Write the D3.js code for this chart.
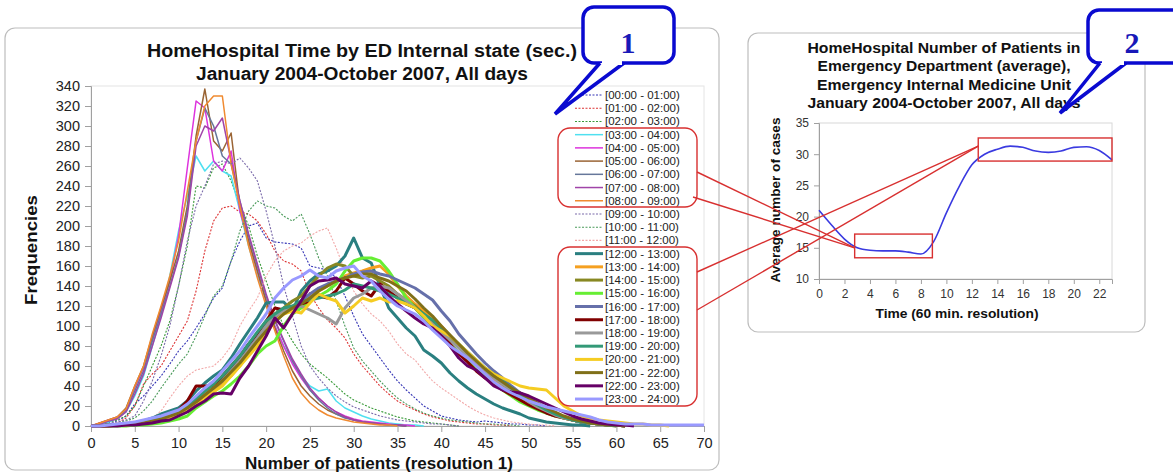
<!DOCTYPE html>
<html>
<head>
<meta charset="utf-8">
<script src="https://cdn.jsdelivr.net/npm/d3@7"></script>
<style>
  body { margin: 0; background: #fff; }
  svg { display: block; font-family: "Liberation Sans", Arial, sans-serif; }
</style>
</head>
<body>
<svg id="chart" width="1173" height="474"></svg>
<script>
// ---- left chart: frequencies by number of patients, one series per hour ----
const hourLabels = [
  '[00:00 - 01:00)', '[01:00 - 02:00)', '[02:00 - 03:00)', '[03:00 - 04:00)',
  '[04:00 - 05:00)', '[05:00 - 06:00)', '[06:00 - 07:00)', '[07:00 - 08:00)',
  '[08:00 - 09:00)', '[09:00 - 10:00)', '[10:00 - 11:00)', '[11:00 - 12:00)',
  '[12:00 - 13:00)', '[13:00 - 14:00)', '[14:00 - 15:00)', '[15:00 - 16:00)',
  '[16:00 - 17:00)', '[17:00 - 18:00)', '[18:00 - 19:00)', '[19:00 - 20:00)',
  '[20:00 - 21:00)', '[21:00 - 22:00)', '[22:00 - 23:00)', '[23:00 - 24:00)'
];
const hourColors = [
  '#3535b5', '#dd3535', '#3a9a3a', '#4fe0f0', '#dd33dd', '#9a6434',
  '#66779a', '#a044a8', '#f08a30', '#7a6aaa', '#4a9a5a', '#f2a8a8',
  '#2a7f80', '#f5a020', '#888822', '#66ee33', '#6670aa', '#800000',
  '#999999', '#339977', '#f5cc22', '#807018', '#660066', '#9999ff'
];
// 0 = dotted thin, 1 = solid thin, 2 = solid thick
const hourStyle = [0, 0, 0, 1, 1, 1, 1, 1, 1, 0, 0, 0, 2, 2, 2, 2, 2, 2, 2, 2, 2, 2, 2, 2];

// frequency per number of patients (x = 0, 1, 2, ...)
const h00 = [0,2,3,5,10,22,30,40,50,62,75,85,98,112,128,138,165,185,200,203,188,184,183,182,178,160,158,156,148,130,110,92,80,68,56,45,36,28,20,15,10,8,6,5,4,5,4,3,2,2,1,1,0];
const h01 = [0,1,2,3,8,20,42,52,60,75,90,105,135,175,205,218,220,214,212,205,192,175,165,162,155,132,118,106,98,88,72,60,50,40,32,25,20,16,12,9,7,5,4,3,2,2,1,1,0];
const h02 = [0,2,4,6,10,20,40,60,80,105,140,180,240,238,258,262,245,222,200,170,145,120,100,85,72,62,55,48,40,32,26,22,18,15,12,9,7,5,4,3,2,1,0];
const h03 = [0,2,4,8,14,30,50,80,110,150,195,230,270,255,265,255,250,215,180,150,125,100,80,65,50,40,35,37,25,18,14,10,7,5,3,2,1,1,0];
const h04 = [0,3,6,9,16,38,58,88,115,145,190,258,325,318,265,255,275,215,185,155,125,100,80,62,48,36,28,20,14,10,7,5,4,3,2,1,1,0];
const h05 = [0,3,6,9,18,40,60,90,118,145,175,220,290,337,285,275,293,220,185,155,125,98,75,55,40,30,22,16,12,9,6,4,3,2,1,1,0];
const h06 = [0,2,5,8,15,35,55,85,112,140,170,215,285,318,300,270,262,225,190,160,130,105,85,65,50,36,26,18,12,8,6,4,3,2,1,1,0];
const h07 = [0,2,5,7,14,32,52,80,108,138,168,210,280,300,295,308,265,225,192,162,132,106,86,67,52,38,28,20,14,9,6,4,3,2,1,1,0];
const h08 = [0,3,6,9,17,40,60,92,120,150,185,235,285,320,330,330,262,220,180,148,120,95,70,48,33,23,16,11,8,6,4,3,2,1,1,0];
const h09 = [0,1,2,4,6,10,25,45,70,100,140,185,220,240,262,265,262,268,258,245,215,180,140,110,80,60,48,38,30,24,19,16,13,10,8,6,5,4,3,2,2,1,0];
const h10 = [0,1,2,3,5,8,15,25,38,50,62,72,90,110,130,140,165,195,215,225,220,218,210,205,212,192,168,150,125,100,78,65,55,45,36,28,22,17,13,10,8,6,5,4,3,2,2,1,1,0];
const h11 = [0,1,2,3,4,5,6,8,15,28,40,50,56,58,60,68,80,100,115,128,150,165,175,180,183,190,195,198,178,155,135,122,112,105,95,82,72,66,55,45,38,32,26,20,15,11,8,6,4,3,2,1,1,0];
const h12 = [0,0,1,1,2,3,5,8,12,15,18,25,35,43,50,56,68,82,95,108,123,124,124,115,135,145,152,155,160,170,188,168,163,140,118,108,98,90,76,70,63,53,45,38,32,27,22,18,15,12,8,6,4,3,2,1,1,0];
const h13 = [0,0,0,1,1,2,3,5,7,9,12,16,22,28,35,42,50,60,72,85,98,108,112,118,122,128,135,140,145,150,153,155,158,160,152,140,130,122,115,108,100,90,80,70,62,54,47,40,34,28,23,18,14,11,8,6,4,3,2,1,0];
const h14 = [0,0,1,1,2,3,4,6,8,11,14,19,26,33,40,48,57,67,78,90,102,112,118,125,130,140,150,158,162,160,150,148,150,145,140,132,126,120,112,104,96,88,80,72,64,56,49,42,36,30,25,20,16,12,9,6,4,3,2,1,1,0];
const h15 = [0,0,0,0,0,1,1,2,3,5,7,10,18,24,30,35,42,50,60,72,80,85,100,112,118,125,130,135,142,155,165,168,168,165,155,142,128,118,108,98,92,82,74,66,56,50,43,36,30,24,20,16,13,10,8,6,4,3,2,1,1,0];
const h16 = [0,0,1,1,2,3,4,6,9,12,15,20,27,34,41,49,58,68,79,90,100,107,113,118,125,132,138,142,145,148,152,154,155,152,150,146,142,138,132,126,115,105,92,82,72,63,55,48,40,33,27,21,16,12,9,6,4,3,2,1,1,0];
const h17 = [0,0,1,1,2,3,5,7,9,12,16,25,40,40,40,50,60,70,82,92,105,118,116,118,122,125,130,128,135,148,142,135,130,142,135,128,122,118,110,100,92,82,72,64,55,48,42,36,31,26,21,17,13,10,8,6,4,3,2,1,1,0];
const h18 = [0,0,1,1,2,3,4,6,8,10,13,18,25,32,38,45,55,65,76,88,100,110,115,118,120,116,112,108,102,118,128,132,138,140,138,132,125,118,110,102,94,86,78,70,62,55,48,42,36,30,24,19,15,11,8,6,4,3,2,1,1,0];
const h19 = [0,0,1,1,2,3,4,6,9,12,15,20,27,35,42,50,60,70,82,94,105,112,118,120,125,126,128,130,132,136,142,140,138,135,132,128,122,118,112,106,98,90,82,74,66,58,52,45,38,32,26,21,16,12,9,6,4,3,2,1,0];
const h20 = [0,0,0,1,1,2,3,4,6,8,11,15,22,28,34,40,50,60,70,80,92,105,112,115,113,123,132,128,125,113,120,128,125,128,124,125,122,118,110,100,95,90,82,74,66,58,52,48,44,40,38,37,36,28,20,15,10,8,6,5,4,3,2,2,1,1,0];
const h21 = [0,0,0,1,1,2,3,5,7,10,13,18,24,31,38,45,54,63,74,85,95,104,112,118,122,128,135,140,145,148,150,152,152,148,145,140,135,127,118,110,100,91,82,73,65,57,50,44,38,33,28,23,18,14,10,7,5,3,2,1,1,0];
const h22 = [0,0,0,0,1,1,2,3,5,6,10,14,20,25,32,33,32,48,60,75,90,108,98,112,125,140,145,146,148,142,140,138,145,140,130,122,115,108,102,98,90,80,68,60,56,48,40,36,34,33,30,26,22,18,14,10,7,5,3,2,1,1,0];
const h23 = [0,0,1,2,3,4,6,8,10,13,16,22,30,38,45,55,65,75,88,100,112,128,138,146,150,156,150,148,155,158,160,150,145,135,127,120,116,112,105,96,88,80,74,68,60,52,44,38,33,29,25,22,19,17,15,13,11,9,6,4,3,2,2,2,1,1,1,1,1,1,1];
const hourSeries = [h00,h01,h02,h03,h04,h05,h06,h07,h08,h09,h10,h11,h12,h13,h14,h15,h16,h17,h18,h19,h20,h21,h22,h23];

const freqTicks = d3.range(0, 341, 20);
const patientTicks = d3.range(0, 71, 5);

// ---- right chart: average number of patients per hour ----
const hours = d3.range(0, 24);
const avgPatients = [21.0,18.6,16.4,15.0,14.6,14.5,14.5,14.3,14.0,16.0,20.6,24.8,28.3,30.0,30.8,31.3,31.1,30.5,30.3,30.5,31.1,31.2,30.6,29.1];
const avgTicks = [10, 15, 20, 25, 30, 35];
const hourTicks = d3.range(0, 23, 2);

const svg = d3.select('#chart');
svg.append('rect').attr('width', 1173).attr('height', 474).attr('fill', '#fff');

// wide bold label, stretched to the width seen in the picture
function label(px, py, txt, size, width, rotate) {
  const t = svg.append('text')
    .attr('text-anchor', 'middle')
    .style('font-size', size + 'px').style('font-weight', 'bold').attr('fill', '#111')
    .attr('textLength', width).attr('lengthAdjust', 'spacingAndGlyphs')
    .text(txt);
  if (rotate) t.attr('transform', `translate(${px},${py}) rotate(-90)`);
  else t.attr('x', px).attr('y', py);
  return t;
}

// ================= left panel =================
svg.append('rect')
  .attr('x', 5).attr('y', 28).attr('width', 714).attr('height', 442)
  .attr('rx', 10).attr('fill', '#fff').attr('stroke', '#bdbdbd').attr('stroke-width', 1.2);

const x = d3.scaleLinear().domain([0, 70]).range([91, 704]);
const y = d3.scaleLinear().domain([0, 340]).range([426, 86]);

svg.append('rect')
  .attr('x', 91).attr('y', 86).attr('width', 613).attr('height', 340)
  .attr('fill', 'none').attr('stroke', '#e4e4e4');

const gy = svg.append('g').attr('transform', 'translate(91,0)')
  .call(d3.axisLeft(y).tickValues(freqTicks).tickSize(6).tickPadding(5));
const gx = svg.append('g').attr('transform', 'translate(0,426)')
  .call(d3.axisBottom(x).tickValues(patientTicks).tickSize(6).tickPadding(6));
[gx, gy].forEach(g => {
  g.select('.domain').attr('stroke', '#a0a0a0');
  g.selectAll('.tick line').attr('stroke', '#a0a0a0');
  g.selectAll('.tick text').attr('fill', '#222').style('font-size', '14.5px')
    .style('font-family', '"Liberation Sans", Arial, sans-serif');
});

function lineStyle(sel, i) {
  const s = hourStyle[i];
  sel.attr('fill', 'none')
    .attr('stroke', hourColors[i])
    .attr('stroke-width', s === 2 ? 3 : (s === 1 ? 1.5 : 1.1))
    .attr('stroke-dasharray', s === 0 ? '2,1.5' : null)
    .attr('stroke-linejoin', 'round');
}

const freqLine = d3.line().x((d, j) => x(j)).y(d => y(d));
hourSeries.forEach((vals, i) => {
  svg.append('path').datum(vals).attr('d', freqLine).call(lineStyle, i);
});

// legend
const legend = svg.append('g');
hourLabels.forEach((lab, i) => {
  const ly = 95 + i * 13.22;
  legend.append('line').attr('x1', 575).attr('x2', 603).attr('y1', ly).attr('y2', ly)
    .call(lineStyle, i);
  legend.append('text').attr('x', 605).attr('y', ly + 4)
    .style('font-size', '11.5px').attr('fill', '#222').text(lab);
});

// titles
label(362, 57, 'HomeHospital Time by ED Internal state (sec.)', 17.5, 430);
label(362, 80, 'January 2004-October 2007, All days', 17.5, 332);
label(37, 250, 'Frequencies', 16.5, 110, true);
label(379, 469, 'Number of patients (resolution 1)', 16.5, 268);

// ================= right panel =================
svg.append('rect')
  .attr('x', 748).attr('y', 33).attr('width', 397).attr('height', 299)
  .attr('rx', 10).attr('fill', '#fff').attr('stroke', '#bdbdbd').attr('stroke-width', 1.2);

const x2 = d3.scaleLinear().domain([0, 23]).range([819, 1112]);
const y2 = d3.scaleLinear().domain([10, 35]).range([279, 123]);

svg.append('rect')
  .attr('x', 819).attr('y', 123).attr('width', 293).attr('height', 156)
  .attr('fill', 'none').attr('stroke', '#d8d8d8');

const gy2 = svg.append('g').attr('transform', 'translate(819,0)')
  .call(d3.axisLeft(y2).tickValues(avgTicks).tickSize(5).tickPadding(5));
const gx2 = svg.append('g').attr('transform', 'translate(0,279)')
  .call(d3.axisBottom(x2).tickValues(hourTicks).tickSize(5).tickPadding(5));
[gx2, gy2].forEach(g => {
  g.select('.domain').attr('stroke', '#a0a0a0');
  g.selectAll('.tick line').attr('stroke', '#a0a0a0');
  g.selectAll('.tick text').attr('fill', '#333').style('font-size', '12px')
    .style('font-family', '"Liberation Sans", Arial, sans-serif');
});

svg.append('path').datum(avgPatients)
  .attr('d', d3.line().x((d, j) => x2(hours[j])).y(d => y2(d)).curve(d3.curveMonotoneX))
  .attr('fill', 'none').attr('stroke', '#3a3ae0').attr('stroke-width', 1.6);

const rightTitle = [
  'HomeHospital Number of Patients in',
  'Emergency Department (average),',
  'Emergency Internal Medicine Unit',
  'January 2004-October 2007, All days'
];
const rightTitleWidths = [273, 253, 254, 273];
rightTitle.forEach((t, i) => {
  label(944, 53 + i * 18.3, t, 14.5, rightTitleWidths[i]);
});
label(780, 200, 'Average number of cases', 13.5, 165, true);
label(957, 318, 'Time (60 min. resolution)', 13.5, 163);

// ================= annotations =================
const red = '#d83030';
svg.append('rect').attr('x', 558).attr('y', 128).attr('width', 139).attr('height', 79).attr('rx', 12)
  .attr('fill', 'none').attr('stroke', red).attr('stroke-width', 1.4);
svg.append('rect').attr('x', 558).attr('y', 247).attr('width', 139).attr('height', 159).attr('rx', 12)
  .attr('fill', 'none').attr('stroke', red).attr('stroke-width', 1.4);

// boxes on the right chart: night low and afternoon plateau
const lowBox = { h0: 2.8, h1: 8.9, v0: 13.4, v1: 17.2 };
const highBox = { h0: 12.5, h1: 23.0, v0: 28.9, v1: 32.6 };
[lowBox, highBox].forEach(b => {
  svg.append('rect')
    .attr('x', x2(b.h0)).attr('y', y2(b.v1))
    .attr('width', x2(b.h1) - x2(b.h0)).attr('height', y2(b.v0) - y2(b.v1))
    .attr('fill', 'none').attr('stroke', red).attr('stroke-width', 1.4);
});

const lowTip = [x2(2.8), y2(15.0)];
const highTip = [x2(12.5), y2(31.3)];
[[697, 172, lowTip], [693, 197, lowTip], [697, 272, highTip], [697, 310, highTip]].forEach(([sx, sy, t]) => {
  svg.append('line').attr('x1', sx).attr('y1', sy).attr('x2', t[0]).attr('y2', t[1])
    .attr('stroke', red).attr('stroke-width', 1.4);
});

// callouts
function callout(rx, ry, rw, rh, base1, base2, tip, txt, lx, ly) {
  const blue = '#0a0ad0';
  svg.append('rect').attr('x', rx).attr('y', ry).attr('width', rw).attr('height', rh).attr('rx', 11)
    .attr('fill', '#fff').attr('stroke', blue).attr('stroke-width', 3.5);
  svg.append('path')
    .attr('d', `M${base1},${ry + rh} L${tip[0]},${tip[1]} L${base2},${ry + rh}`)
    .attr('fill', '#fff').attr('stroke', blue).attr('stroke-width', 3.5).attr('stroke-linejoin', 'miter');
  svg.append('line').attr('x1', base1 + 2).attr('x2', base2 - 2).attr('y1', ry + rh).attr('y2', ry + rh)
    .attr('stroke', '#fff').attr('stroke-width', 4);
  svg.append('text').attr('x', lx).attr('y', ly).attr('text-anchor', 'middle')
    .style('font-family', '"Liberation Serif", "Times New Roman", serif')
    .style('font-size', '30px').style('font-weight', 'bold').attr('fill', '#1818b8').text(txt);
}
callout(583, 7, 91, 56, 600, 624, [555, 114], '1', 628, 53);
callout(1088, 10, 100, 53, 1100, 1126, [1060, 113], '2', 1132, 53);
</script>
</body>
</html>
